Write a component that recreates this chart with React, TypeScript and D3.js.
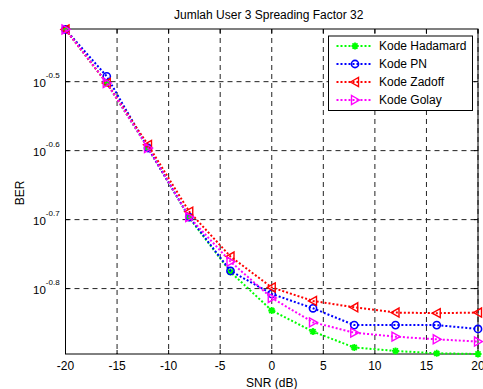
import React, { useEffect, useRef } from 'react';
import * as d3 from 'd3';

// SNR points (dB)
const snr = [-20, -16, -12, -8, -4, 0, 4, 8, 12, 16, 20];

// BER values
const hadamard = [0.3764, 0.3148, 0.2534, 0.2008, 0.1675, 0.1473, 0.1373, 0.1302, 0.1287, 0.1277, 0.1274];
const pn = [0.3764, 0.3219, 0.2534, 0.2012, 0.1681, 0.1557, 0.1484, 0.1403, 0.1403, 0.1403, 0.1385];
const zadoff = [0.3764, 0.3148, 0.2561, 0.2049, 0.1764, 0.1591, 0.1521, 0.1489, 0.1463, 0.146, 0.1463];
const golay = [0.3764, 0.3148, 0.2534, 0.2012, 0.1734, 0.1536, 0.1416, 0.1368, 0.135, 0.1338, 0.1328];

const seriesNames = ['Kode Hadamard', 'Kode PN', 'Kode Zadoff', 'Kode Golay'];
const seriesColors = ['#00ff00', '#0000ff', '#ff0000', '#ff00ff'];
const seriesMarkers = ['star', 'circle', 'left', 'right'];

const xTicks = [-20, -15, -10, -5, 0, 5, 10, 15, 20];
const yTickExps = [-0.5, -0.6, -0.7, -0.8];

const W = 483;
const H = 389;
const FONT = "'Liberation Sans', Arial, Helvetica, sans-serif";

const drawMarker = (g: any, kind: string, x: number, y: number, color: string) => {
  if (kind === 'circle') {
    g.append('circle').attr('cx', x).attr('cy', y).attr('r', 3.6)
      .attr('fill', 'none').attr('stroke', color).attr('stroke-width', 1.6);
  } else if (kind === 'left' || kind === 'right') {
    const s = kind === 'left' ? -1 : 1;
    const pts = [[x + s * 4.5, y], [x - s * 3.5, y - 4.5], [x - s * 3.5, y + 4.5]];
    g.append('polygon').attr('points', pts.map(p => p.join(',')).join(' '))
      .attr('fill', 'none').attr('stroke', color).attr('stroke-width', 1.4);
  } else {
    const r = 3.5;
    const d = r * 0.72;
    const path = `M${x - r},${y}L${x + r},${y}M${x},${y - r}L${x},${y + r}` +
      `M${x - d},${y - d}L${x + d},${y + d}M${x - d},${y + d}L${x + d},${y - d}`;
    g.append('path').attr('d', path).attr('stroke', color).attr('stroke-width', 1.8);
  }
};

const App = () => {
  const svgRef = useRef<SVGSVGElement>(null);

  useEffect(() => {
    const svg = d3.select(svgRef.current);
    svg.selectAll('*').remove();

    const margin = { top: 29, right: 5, bottom: 35, left: 65.5 };
    const innerWidth = W - margin.left - margin.right;
    const innerHeight = H - margin.top - margin.bottom;

    const x = d3.scaleLinear().domain([-20, 20]).range([0, innerWidth]);
    const y = d3.scaleLog().domain([0.1274, 0.377]).range([innerHeight, 0]);

    svg.append('rect').attr('width', W).attr('height', H).attr('fill', '#fff');

    // Title
    svg.append('text')
      .attr('x', margin.left + innerWidth / 2 - 3)
      .attr('y', 19)
      .attr('text-anchor', 'middle')
      .style('font-family', FONT)
      .style('font-size', '12px')
      .text('Jumlah User 3 Spreading Factor 32');

    const g = svg.append('g').attr('transform', `translate(${margin.left},${margin.top})`);

    // Grid
    xTicks.forEach(t => {
      g.append('line').attr('x1', x(t)).attr('x2', x(t)).attr('y1', 0).attr('y2', innerHeight)
        .attr('stroke', '#222').attr('stroke-width', 1).attr('stroke-dasharray', '5,4');
    });
    yTickExps.forEach(e => {
      const yy = y(Math.pow(10, e));
      g.append('line').attr('x1', 0).attr('x2', innerWidth).attr('y1', yy).attr('y2', yy)
        .attr('stroke', '#222').attr('stroke-width', 1).attr('stroke-dasharray', '5,4');
    });

    // Ticks inside, all four sides
    xTicks.forEach(t => {
      g.append('line').attr('x1', x(t)).attr('x2', x(t)).attr('y1', innerHeight).attr('y2', innerHeight - 4).attr('stroke', '#000');
      g.append('line').attr('x1', x(t)).attr('x2', x(t)).attr('y1', 0).attr('y2', 4).attr('stroke', '#000');
      g.append('text')
        .attr('x', x(t))
        .attr('y', innerHeight + 15.5)
        .attr('text-anchor', 'middle')
        .style('font-family', FONT)
        .style('font-size', '12px')
        .text(t);
    });
    yTickExps.forEach(e => {
      const yy = y(Math.pow(10, e));
      g.append('line').attr('x1', 0).attr('x2', 4).attr('y1', yy).attr('y2', yy).attr('stroke', '#000');
      g.append('line').attr('x1', innerWidth).attr('x2', innerWidth - 4).attr('y1', yy).attr('y2', yy).attr('stroke', '#000');
      const lbl = g.append('text')
        .attr('x', -32.5)
        .attr('y', yy + 5)
        .style('font-family', FONT)
        .style('font-size', '11.5px');
      lbl.append('tspan').text('10');
      lbl.append('tspan').attr('dy', -8.5).style('font-size', '8px').text(String(e));
    });

    // Box
    g.append('rect').attr('width', innerWidth).attr('height', innerHeight)
      .attr('fill', 'none').attr('stroke', '#000').attr('stroke-width', 1);

    // Axis labels
    svg.append('text')
      .attr('x', margin.left + innerWidth / 2)
      .attr('y', 387)
      .attr('text-anchor', 'middle')
      .style('font-family', FONT)
      .style('font-size', '12px')
      .text('SNR (dB)');
    svg.append('text')
      .attr('transform', 'rotate(-90)')
      .attr('x', -193)
      .attr('y', 24)
      .attr('text-anchor', 'middle')
      .style('font-family', FONT)
      .style('font-size', '12px')
      .text('BER');

    // Series
    const allSeries = [hadamard, pn, zadoff, golay];
    const line = d3.line<number>().x((_, i) => x(snr[i])).y(d => y(d));
    allSeries.forEach((vals, si) => {
      g.append('path')
        .attr('d', line(vals))
        .attr('fill', 'none')
        .attr('stroke', seriesColors[si])
        .attr('stroke-width', 2)
        .attr('stroke-dasharray', '2,2');
      vals.forEach((v, i) => drawMarker(g, seriesMarkers[si], x(snr[i]), y(v), seriesColors[si]));
    });

    // Legend
    const lg = svg.append('g').attr('transform', 'translate(328.5,36)');
    lg.append('rect').attr('width', 144).attr('height', 74.5)
      .attr('fill', '#fff').attr('stroke', '#000').attr('stroke-width', 1);
    seriesNames.forEach((name, i) => {
      const yy = 10 + i * 18;
      lg.append('line').attr('x1', 8).attr('x2', 43).attr('y1', yy).attr('y2', yy)
        .attr('stroke', seriesColors[i]).attr('stroke-width', 2).attr('stroke-dasharray', '2,2');
      drawMarker(lg, seriesMarkers[i], 26.5, yy, seriesColors[i]);
      lg.append('text')
        .attr('x', 50.5)
        .attr('y', yy + 4.3)
        .style('font-family', FONT)
        .style('font-size', '12px')
        .text(name);
    });
  }, []);

  return (
    <svg
      ref={svgRef}
      width={W}
      height={H}
      style={{ position: 'absolute', left: 0, top: 0 }}
    />
  );
};

export default App;
